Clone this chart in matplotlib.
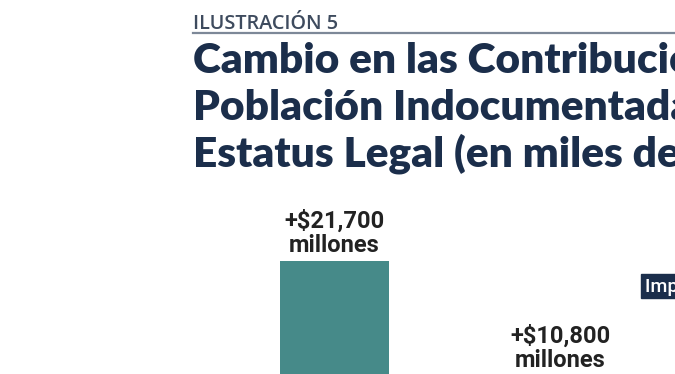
import matplotlib
matplotlib.use("Agg")
import matplotlib.pyplot as plt
from matplotlib.patches import Rectangle
from matplotlib.lines import Line2D

W, H = 675, 374
fig = plt.figure(figsize=(W / 100, H / 100), dpi=100)

# data
categories = ["Estatus actual", "Estatus legal", "Ciudadanía"]
values = [21700, 10800]
value_labels = ["+$21,700\nmillones", "+$10,800\nmillones"]
kicker = "ILUSTRACIÓN 5"
title_lines = [
    "Cambio en las Contribuciones Fiscales de la",
    "Población Indocumentada al Obtener",
    "Estatus Legal (en miles de millones)",
]
legend_label = "Impuestos federales"

navy = "#1B2E4B"
teal = "#468A89"

def px(x, y):
    return x / W, 1 - y / H

# kicker and rule
fig.text(*px(193, 29), kicker, fontsize=14.3, color="#3E4B5E",
         family="Open Sans", fontweight="semibold", va="baseline", ha="left")
fig.add_artist(Line2D([193 / W, 1.0], [1 - 32.5 / H, 1 - 32.5 / H],
                      color="#7D8898", lw=1.6, transform=fig.transFigure))

# title
for i, line in enumerate(title_lines):
    fig.text(*px(193, 73 + 47 * i), line, fontsize=30.5, color=navy,
             family="Lato", fontweight="heavy", va="baseline", ha="left")

# axes, extending below the visible figure
base_px = 490
k = 0.01055
ymax = 25000
top_px = base_px - ymax * k
ax = fig.add_axes([(334.5 - 0.5 * 226) / W, (H - base_px) / H,
                   3 * 226 / W, (base_px - top_px) / H])
ax.set_xlim(-0.5, 2.5)
ax.set_ylim(0, ymax)
ax.axis("off")

x = list(range(len(values)))
ax.bar(x, values, width=0.485, color=teal)
for xi, v, lab in zip(x, values, value_labels):
    ax.annotate(lab, (xi, v), xytext=(0, 3), textcoords="offset points",
                ha="center", va="bottom", fontsize=17, family="Roboto",
                fontweight="bold", color="#222222", linespacing=1.05)

# legend chip (clipped at the right edge)
fig.add_artist(Rectangle((641 / W, 1 - 298 / H), 80 / W, 24 / H,
                         transform=fig.transFigure, color=navy))
fig.text(*px(645, 292), legend_label, fontsize=14, color="white",
         family="Roboto", fontweight="medium", va="baseline", ha="left")

fig.savefig("out.png", dpi=100)
